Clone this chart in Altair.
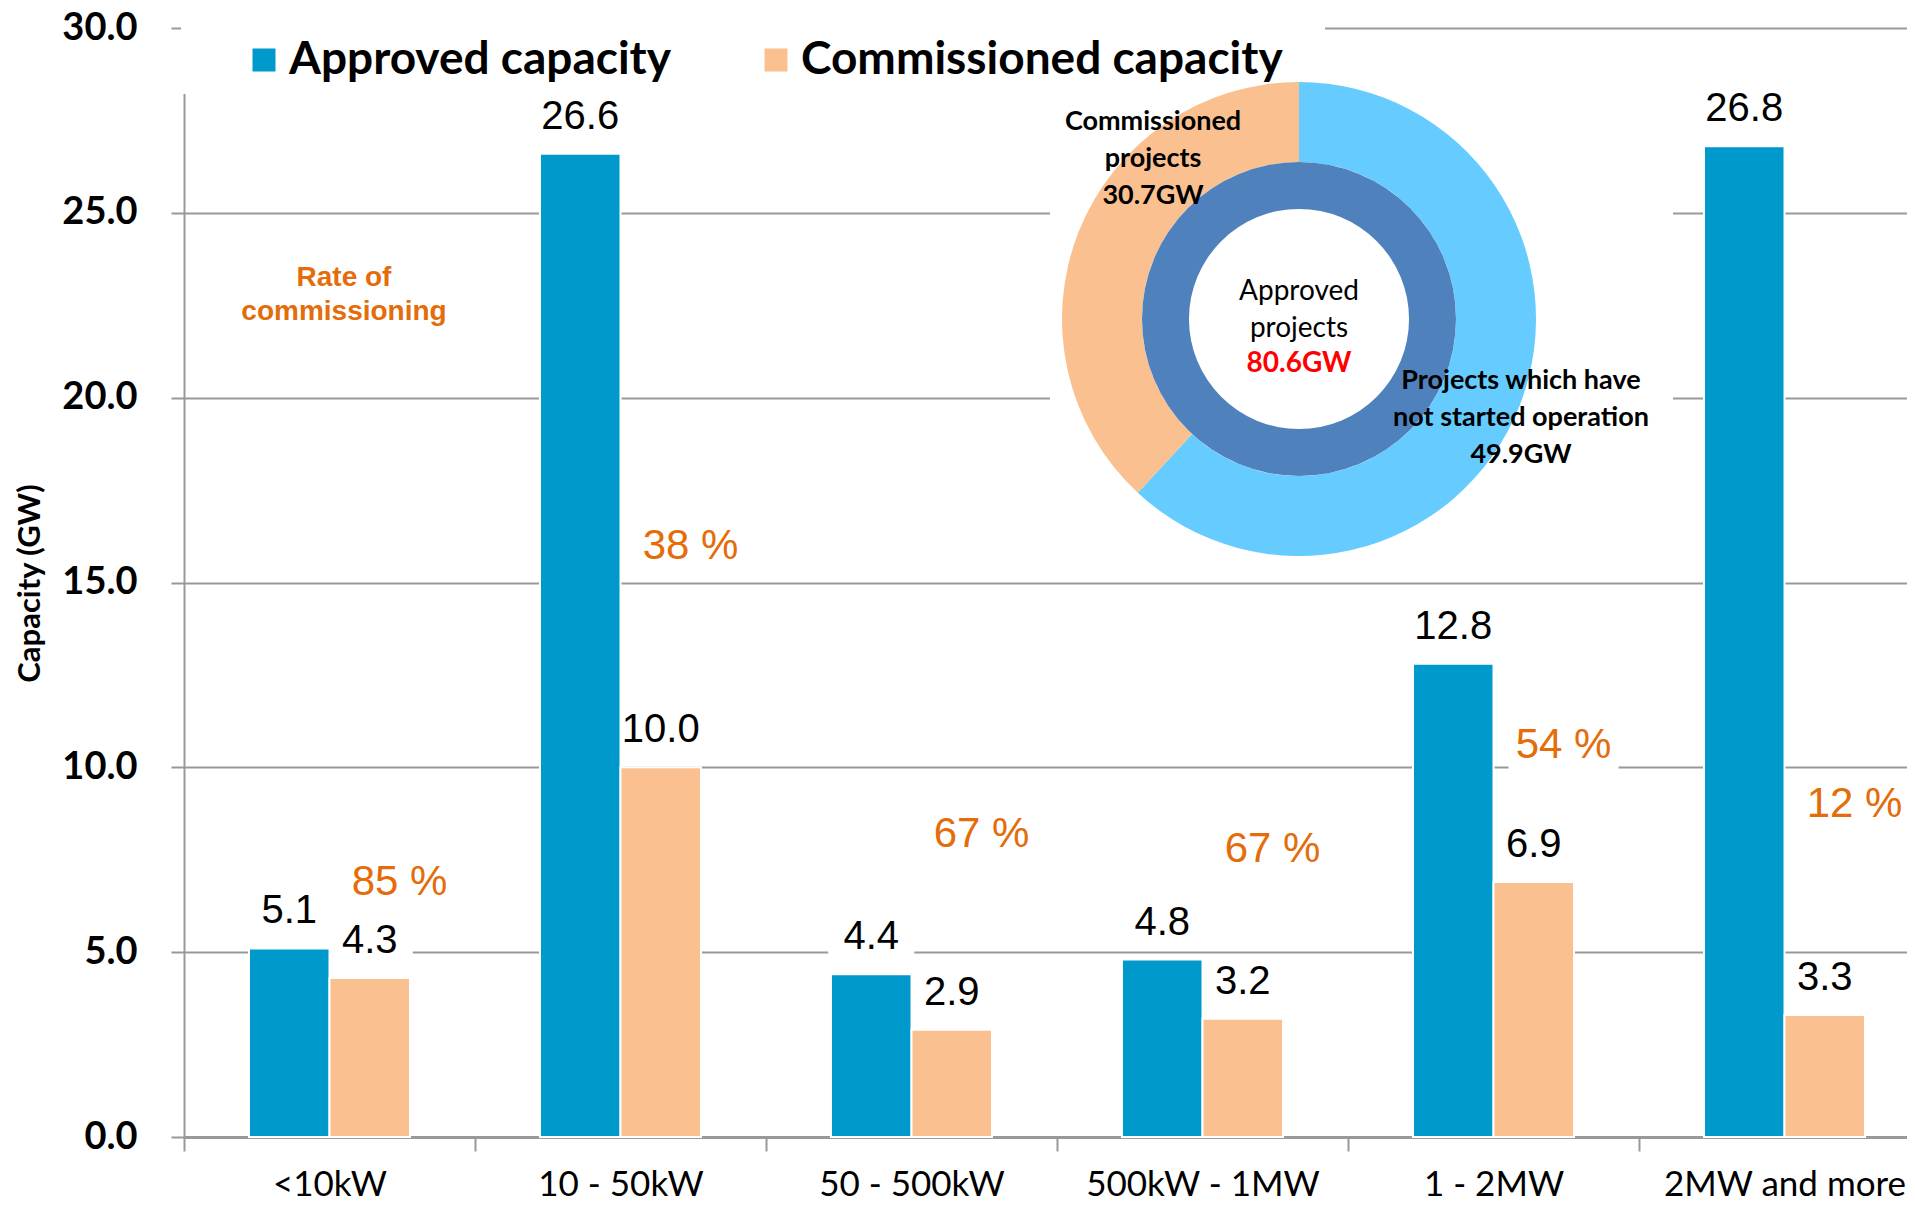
import altair as alt
import pandas as pd

# ---------------- data ----------------
categories = ["<10kW", "10 - 50kW", "50 - 500kW", "500kW - 1MW", "1 - 2MW", "2MW and more"]
approved = [5.1, 26.6, 4.4, 4.8, 12.8, 26.8]
commissioned = [4.3, 10.0, 2.9, 3.2, 6.9, 3.3]
rate_pct = [85, 38, 67, 67, 54, 12]
rate_label_level = [6.9, 16.0, 8.2, 7.8, 10.6, 9.0]   # GW level where each rate label sits
series_names = ["Approved capacity", "Commissioned capacity"]
series_colors = ["#0099CC", "#FAC090"]

donut_parts = ["Projects which have not started operation", "Commissioned projects"]
donut_values = [49.9, 30.7]
donut_colors = ["#66CCFF", "#FAC090"]
approved_total = 80.6
y_ticks = [0, 5, 10, 15, 20, 25, 30]

# ---------------- tables ----------------
rows = []
for i, c in enumerate(categories):
    rows.append({"category": c, "series": series_names[0], "value": approved[i]})
    rows.append({"category": c, "series": series_names[1], "value": commissioned[i]})
bars_df = pd.DataFrame(rows)
bars_df["label"] = bars_df["value"].map(lambda v: f"{v:.1f}")

rate_df = pd.DataFrame({
    "category": categories,
    "value": rate_label_level,
    "label": [f"{p} %" for p in rate_pct],
})

donut_df = pd.DataFrame({"part": donut_parts, "value": donut_values, "idx": [0, 1]})
total_df = pd.DataFrame({"part": ["Approved projects"], "value": [approved_total]})
one = pd.DataFrame({"k": [0]})

GRID = "#999999"
ORANGE_TXT = "#E46C0A"

x_enc = alt.X(
    "category:N", sort=categories,
    scale=alt.Scale(domain=categories, range=[0, 1746], paddingInner=0, paddingOuter=0),
    axis=alt.Axis(
        title=None, labelFont="Lato", labelFontSize=35, labelColor="#000000",
        labelPadding=16, labelAngle=0, labelLimit=600,
        tickOffset=-145.5, labelOffset=145.5, tickSize=14, tickColor=GRID, tickWidth=2,
        domainColor=GRID, domainWidth=3, grid=False, zindex=0,
    ),
)
y_enc = alt.Y(
    "value:Q",
    scale=alt.Scale(domain=[0, 30], nice=False, zero=True),
    axis=alt.Axis(
        values=y_ticks, format=".1f", title="Capacity (GW)",
        titleFont="Lato", titleFontSize=31, titleFontWeight="bold", titleColor="#000000",
        titleX=-154, titleY=555, titleAngle=270, titleAlign="center", titleBaseline="middle",
        labelFont="Lato", labelFontSize=38, labelFontWeight="bold", labelColor="#000000",
        labelPadding=34, tickSize=13, tickColor=GRID, tickWidth=2,
        domainColor=GRID, domainWidth=2, gridColor=GRID, gridWidth=2, zindex=0,
    ),
)
xo = alt.XOffset("series:N", sort=series_names,
                 scale=alt.Scale(domain=series_names, paddingInner=0, paddingOuter=0.807))
color_enc = alt.Color(
    "series:N", sort=series_names,
    scale=alt.Scale(domain=series_names, range=series_colors),
    legend=alt.Legend(
        title=None, orient="none", legendX=57, legendY=9, direction="horizontal",
        symbolType="square", symbolSize=529, symbolStrokeWidth=0,
        labelFont="Lato", labelFontSize=46, labelFontWeight="bold", labelColor="#000000",
        labelOffset=2, columnPadding=82, padding=0, labelLimit=800,
    ),
)

# white backgrounds of legend and inset doughnut
legend_box = alt.Chart(one).mark_rect(color="white").encode(
    x=alt.value(-3), x2=alt.value(1141), y=alt.value(-28), y2=alt.value(66))
donut_box = alt.Chart(one).mark_rect(color="white").encode(
    x=alt.value(866), x2=alt.value(1489), y=alt.value(43), y2=alt.value(536))

# white label boxes (hide gridlines behind labels)
value_boxes = alt.Chart(bars_df).mark_point(
    shape="M-0.86,-1.16H0.86V-0.40H-0.86Z", size=10000, filled=True,
    color="white", opacity=1, strokeWidth=0,
).encode(x=x_enc, xOffset=xo, y=y_enc)
rate_boxes = alt.Chart(rate_df).mark_point(
    shape="M0.3,-0.5H2.5V0.5H0.3Z", size=10000, filled=True,
    color="white", opacity=1, strokeWidth=0,
).encode(x=x_enc, y=y_enc)

bars = alt.Chart(bars_df).mark_bar(stroke="white", strokeWidth=2).encode(
    x=x_enc, xOffset=xo, y=y_enc, color=color_enc)

value_labels = alt.Chart(bars_df).mark_text(
    font="Liberation Sans", fontSize=40, color="#000000", baseline="alphabetic", dy=-25,
).encode(x=x_enc, xOffset=xo, y=y_enc, text="label:N")

rate_labels = alt.Chart(rate_df).mark_text(
    font="Liberation Sans", fontSize=42, color=ORANGE_TXT, baseline="middle", dx=70,
).encode(x=x_enc, y=y_enc, text="label:N")

# doughnut inset
CX, CY = 1115, 291
outer_ring = alt.Chart(donut_df).mark_arc(outerRadius=237, innerRadius=157).encode(
    theta=alt.Theta("value:Q", stack=True),
    order=alt.Order("idx:Q"),
    color=alt.Color("part:N", scale=alt.Scale(domain=donut_parts, range=donut_colors), legend=None),
    x=alt.value(CX), y=alt.value(CY),
)
inner_ring = alt.Chart(total_df).mark_arc(outerRadius=157, innerRadius=110, color="#4F81BD").encode(
    theta=alt.Theta("value:Q"), x=alt.value(CX), y=alt.value(CY))

t_comm = alt.Chart(one).mark_text(
    font="Lato", fontWeight="bold", fontSize=27, lineHeight=37, color="#000000",
    align="center", baseline="middle",
).encode(x=alt.value(969), y=alt.value(94),
         text=alt.value(["Commissioned", "projects", f"{donut_values[1]}GW"]))
t_appr = alt.Chart(one).mark_text(
    font="Lato", fontSize=28, lineHeight=37, color="#000000", align="center", baseline="middle",
).encode(x=alt.value(CX), y=alt.value(264), text=alt.value(["Approved", "projects"]))
t_total = alt.Chart(one).mark_text(
    font="Lato", fontWeight="bold", fontSize=28, color="#FF0000", align="center", baseline="middle",
).encode(x=alt.value(CX), y=alt.value(336), text=alt.value(f"{approved_total}GW"))
t_rest = alt.Chart(one).mark_text(
    font="Lato", fontWeight="bold", fontSize=27, lineHeight=37, color="#000000",
    align="center", baseline="middle",
).encode(x=alt.value(1337), y=alt.value(353),
         text=alt.value(["Projects which have", "not started operation", f"{donut_values[0]}GW"]))

t_rate = alt.Chart(one).mark_text(
    font="Liberation Sans", fontWeight="bold", fontSize=28, lineHeight=34, color=ORANGE_TXT,
    align="center", baseline="middle",
).encode(x=alt.value(160), y=alt.value(250), text=alt.value(["Rate of", "commissioning"]))

chart = alt.layer(
    legend_box, donut_box, value_boxes, rate_boxes, bars, value_labels, rate_labels,
    outer_ring, inner_ring, t_comm, t_appr, t_total, t_rest, t_rate,
).resolve_scale(
    color="independent", theta="independent"
).properties(
    width=1723, height=1109,
    padding={"left": 176, "top": 20, "right": 0, "bottom": 67},
    autosize=alt.AutoSizeParams(type="none"),
    background="white",
).configure_view(stroke=None)

chart.save("out.html", embed_options={"renderer": "svg", "actions": False})
